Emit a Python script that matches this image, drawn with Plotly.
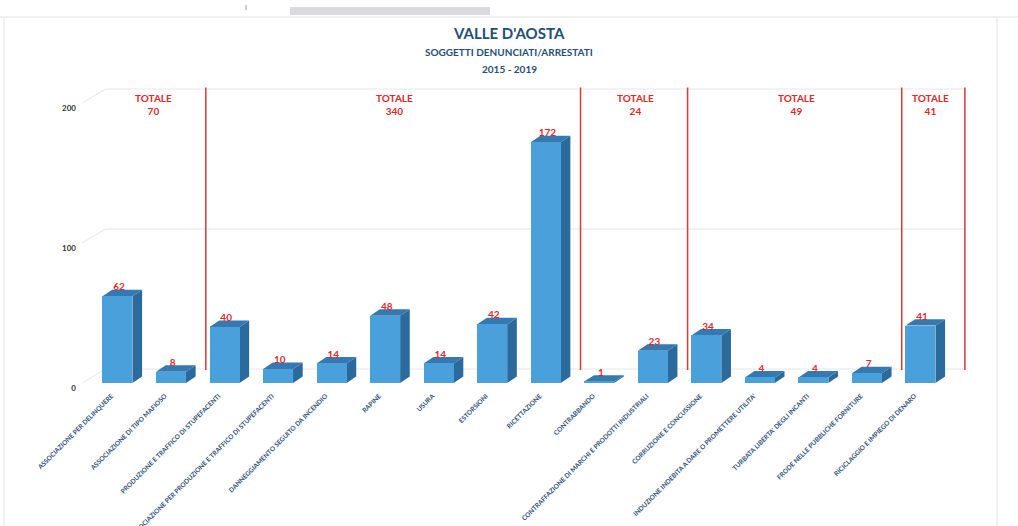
import plotly.graph_objects as go

categories = [
    "ASSOCIAZIONE PER DELINQUERE",
    "ASSOCIAZIONE DI TIPO MAFIOSO",
    "PRODUZIONE E TRAFFICO DI STUPEFACENTI",
    "ASSOCIAZIONE PER PRODUZIONE E TRAFFICO DI STUPEFACENTI",
    "DANNEGGIAMENTO SEGUITO DA INCENDIO",
    "RAPINE",
    "USURA",
    "ESTORSIONI",
    "RICETTAZIONE",
    "CONTRABBANDO",
    "CONTRAFFAZIONE DI MARCHI E PRODOTTI INDUSTRIALI",
    "CORRUZIONE E CONCUSSIONE",
    "INDUZIONE INDEBITA A DARE O PROMETTERE UTILITA'",
    "TURBATA LIBERTA' DEGLI INCANTI",
    "FRODE NELLE PUBBLICHE FORNITURE",
    "RICICLAGGIO E IMPIEGO DI DENARO",
]
values = [62, 8, 40, 10, 14, 48, 14, 42, 172, 1, 23, 34, 4, 4, 7, 41]
group_sizes = [2, 7, 2, 4, 1]
y_ticks = [0, 100, 200]

title = "VALLE D'AOSTA"
subtitle = "SOGGETTI DENUNCIATI/ARRESTATI"
period = "2015 - 2019"

# ---- styling / geometry ----
W, H = 1018, 526
ML, MR, MT, MB = 80, 44, 75, 143
XR = [-0.7, 16.0]
YR = [0, 220]
BW = 0.56          # bar width (category units)
DX, DY = 0.18, 4.6  # 3D depth offsets
WALL_DY = 10
FRONT, SIDE, TOP = "#4aa0da", "#2a6a9c", "#3679b0"
RED = "#e02828"
FONT = "Lato"

PW, PH = W - ML - MR, H - MT - MB


def pxx(px):
    return (px - ML) / PW


def pxy(py):
    return (H - MB - py) / PH


xs = list(range(len(categories)))

fig = go.Figure()
fig.add_trace(go.Bar(
    x=xs, y=values, width=BW,
    marker=dict(color=FRONT, line=dict(width=0)),
    hoverinfo="skip", showlegend=False,
))
fig.add_trace(go.Scatter(
    x=[x + 0.03 for x in xs], y=[v + 6 for v in values], mode="text",
    text=[str(v) for v in values],
    textfont=dict(color=RED, size=10, family=FONT, weight="bold"),
    hoverinfo="skip", showlegend=False,
))

shapes = []
# back-wall gridlines
for v in y_ticks:
    shapes.append(dict(type="line", xref="x", yref="y", layer="below",
                       x0=-0.22, x1=15.85, y0=v + WALL_DY, y1=v + WALL_DY,
                       line=dict(color="#e6e6e6", width=1)))
    shapes.append(dict(type="line", xref="x", yref="y", layer="below",
                       x0=-0.66, x1=-0.22, y0=v, y1=v + WALL_DY,
                       line=dict(color="#e6e6e6", width=1)))

# 3D faces
for x, v in zip(xs, values):
    x0, x1 = x - BW / 2, x + BW / 2
    side = f"M {x1} 0 L {x1 + DX} {DY} L {x1 + DX} {v + DY} L {x1} {v} Z"
    top = f"M {x0} {v} L {x1} {v} L {x1 + DX} {v + DY} L {x0 + DX} {v + DY} Z"
    shapes.append(dict(type="path", path=side, xref="x", yref="y", layer="below",
                       fillcolor=SIDE, line=dict(width=0)))
    shapes.append(dict(type="path", path=top, xref="x", yref="y", layer="below",
                       fillcolor=TOP, line=dict(width=0)))

# group separators and totals
annotations = []
start = 0
n_groups = len(group_sizes)
for gi, size in enumerate(group_sizes):
    end = start + size
    total = sum(values[start:end])
    center = (start + end - 1) / 2 + 0.18
    annotations.append(dict(x=center, y=199, xref="x", yref="y", showarrow=False,
                            yanchor="middle",
                            text=f"<b>TOTALE<br>{total}</b>",
                            font=dict(color=RED, size=10, family=FONT)))
    if gi < n_groups - 1:
        xl = end - 0.5 + 0.15
    else:
        xl = end - 1 + 0.83
    shapes.append(dict(type="line", xref="x", yref="y", layer="below",
                       x0=xl, x1=xl, y0=9.3, y1=211,
                       line=dict(color="#d83a3a", width=1.5)))
    start = end

# titles
annotations += [
    dict(x=pxx(509), y=pxy(33), xref="paper", yref="paper", showarrow=False, yanchor="middle",
         text=f"<b>{title}</b>", font=dict(size=15, color="#1f4e79", family=FONT)),
    dict(x=pxx(509), y=pxy(52), xref="paper", yref="paper", showarrow=False, yanchor="middle",
         text=f"<b>{subtitle}</b>", font=dict(size=10, color="#1f4e79", family=FONT)),
    dict(x=pxx(509), y=pxy(69), xref="paper", yref="paper", showarrow=False, yanchor="middle",
         text=f"<b>{period}</b>", font=dict(size=10, color="#1f4e79", family=FONT)),
]

# page frame decoration
frame = dict(color="#e3e3e3", width=1)
shapes += [
    dict(type="line", xref="paper", yref="paper", x0=pxx(0), x1=pxx(W), y0=pxy(17), y1=pxy(17), line=frame),
    dict(type="line", xref="paper", yref="paper", x0=pxx(4), x1=pxx(4), y0=pxy(17), y1=pxy(H), line=frame),
    dict(type="line", xref="paper", yref="paper", x0=pxx(997), x1=pxx(997), y0=pxy(17), y1=pxy(H), line=frame),
    dict(type="rect", xref="paper", yref="paper", x0=pxx(290), x1=pxx(490), y0=pxy(15), y1=pxy(7),
         fillcolor="#d9d9de", line=dict(width=0)),
    dict(type="line", xref="paper", yref="paper", x0=pxx(246), x1=pxx(246), y0=pxy(10), y1=pxy(5),
         line=dict(color="#999999", width=1)),
]

fig.update_layout(
    width=W, height=H,
    margin=dict(l=ML, r=MR, t=MT, b=MB, autoexpand=False),
    paper_bgcolor="white", plot_bgcolor="white",
    shapes=shapes, annotations=annotations,
    bargap=0, showlegend=False,
    font=dict(family=FONT),
)
fig.update_xaxes(
    range=XR, tickmode="array", tickvals=xs, ticktext=categories,
    tickangle=-45, tickfont=dict(size=6.5, color="#2f4f7a", family=FONT, weight="bold"),
    showgrid=False, zeroline=False, showline=False, ticks="", automargin=False,
    ticklabelstandoff=7, ticklabelshift=-6,
)
fig.update_yaxes(
    range=YR, tickmode="array", tickvals=y_ticks, ticktext=[f"<b>{v}</b>" for v in y_ticks],
    tickfont=dict(size=8, color="#333333", family=FONT),
    showgrid=False, zeroline=False, showline=False, ticks="", automargin=False,
    ticklabelstandoff=3, ticklabelshift=5,
)

fig.write_html(
    "out.html",
    config={"displayModeBar": False},
    post_script="document.body.style.margin='0px';document.body.style.overflow='hidden';",
)
